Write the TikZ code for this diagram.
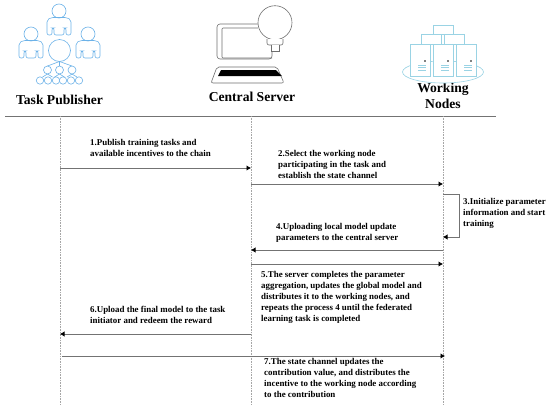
\documentclass[tikz,border=0pt]{standalone}
\usepackage{fontspec}
\setmainfont{Liberation Serif}
\usetikzlibrary{calc,arrows.meta}

\definecolor{pubblue}{HTML}{6CB2E8}
\definecolor{srvgray}{HTML}{6E6E6E}
\definecolor{nodeblue}{HTML}{9AD3E4}

\tikzset{
	head/.style={font=\bfseries\fontsize{13.6}{16}\selectfont, align=center, inner sep=0pt},
	step text/.style={font=\bfseries\fontsize{8.9}{11}\selectfont, align=left, anchor=north west, inner sep=0pt},
	life/.style={densely dotted, gray!70, line width=0.6pt},
	msg/.style={draw=black!55, line width=1pt, -{Latex[black,length=4.5pt,width=5.5pt]}},
	pub/.style={draw=pubblue, line width=0.6pt},
	srv/.style={draw=srvgray, line width=0.6pt},
	wrk/.style={draw=nodeblue, line width=0.6pt, fill=white},
}

\begin{document}
\begin{tikzpicture}[x=1pt, y=-1pt]

	\useasboundingbox (0,0) rectangle (550,405);

	% coordinates
	\coordinate (P) at (60,116);
	\coordinate (S) at (251,116);
	\coordinate (W) at (443,116);

	% header labels
	\node[head] (publisher) at (59.5,100) {Task Publisher};
	\node[head] (server) at (252,97) {Central Server};
	\node[head] (workers) at (443,96) {Working\\Nodes};

	% header rule and lifelines
	\coordinate (ruleL) at (5,116);
	\coordinate (ruleR) at (496,116);
	\draw[black!55, line width=0.9pt] (ruleL) -- (ruleR);
	\draw[life] (P) -- (60,405);
	\draw[life] (S) -- (251,405);
	\draw[life] (W) -- (443,405);

	% publisher icon: people
	\foreach \x/\y in {59/0, 31/23, 88/23} {
		\draw[pub] (\x,{\y+11}) circle[radius=7];
		\draw[pub, rounded corners=2pt] ({\x-12},{\y+35}) -- ({\x-12},{\y+20}) -- ({\x-8},{\y+17.5}) -- ({\x+8},{\y+17.5}) -- ({\x+12},{\y+20}) -- ({\x+12},{\y+35}) -- ({\x+7},{\y+35}) -- ({\x+7},{\y+28}) -- ({\x+5},{\y+28}) -- ({\x+5},{\y+35}) -- ({\x-5},{\y+35}) -- ({\x-5},{\y+28}) -- ({\x-7},{\y+28}) -- ({\x-7},{\y+35}) -- cycle;
	}
	% publisher icon: tree
	\draw[pub, fill=white] (59.5,50.5) circle[radius=11];
	\foreach \x in {47.5,59.5,72} {
		\draw[pub] (59.5,61.5) -- (\x,66);
		\draw[pub] (\x,74) -- ({\x-5},77);
		\draw[pub] (\x,74) -- ({\x+5},77);
		\draw[pub, fill=white] (\x,70) circle[radius=4];
	}
	\foreach \x in {40,48,56,63,71,79} {
		\draw[pub, fill=white] (\x,80.5) circle[radius=3.7];
	}

	% server icon: laptop
	\draw[srv, rounded corners=3pt] (258,24) -- (217,24) -- (217,59) -- (272,59) -- (272,50);
	\draw[srv, rounded corners=1pt] (258,28) -- (222,28) -- (222,58) -- (272,58);
	\draw[srv, rounded corners=2pt] (217,67) -- (277,67) -- (284,83) -- (211,83) -- cycle;
	\fill[black] (221,70) -- (276,70) -- (282,76) -- (218,76) -- cycle;
	% server icon: bulb
	\draw[srv, fill=white] (275,22.7) circle[radius=17];
	\draw[srv, fill=white, rounded corners=2pt] (267,39) -- (267,45) -- (283,45) -- (283,39);
	\draw[srv, fill=white] (271,45) -- (271,51) -- (279,51) -- (279,45);

	% worker icon
	\draw[wrk] (443,72) ellipse[x radius=40.5, y radius=11];
	\foreach \x/\y/\h in {433/25.5/9, 421/34/10, 444.5/34/10} {
		\draw[wrk] (\x,\y) rectangle ({\x+20},{\y+\h});
	}
	\foreach \x in {410,433,456} {
		\draw[wrk] (\x,44) rectangle ({\x+20.5},76);
		\fill[black] ({\x+15},61) circle[radius=0.9];
		\foreach \y in {65,67.5,70} {
			\draw[nodeblue, line width=0.7pt] ({\x+8},\y) -- ({\x+16},\y);
		}
	}

	% message ends
	\coordinate (p1) at (60,168);
	\coordinate (s1) at (251,168);
	\coordinate (s2) at (251,184);
	\coordinate (w2) at (443,184);
	\coordinate (w3a) at (443,194.5);
	\coordinate (w3b) at (443,237);
	\coordinate (w4) at (443,250);
	\coordinate (s4) at (251,250);
	\coordinate (s5) at (251,264);
	\coordinate (w5) at (443,264);
	\coordinate (s6) at (251,334);
	\coordinate (p6) at (60,334);
	\coordinate (p7) at (62,356);
	\coordinate (w7) at (445,356);

	% messages
	\draw[msg] (p1) -- (s1);
	\draw[msg] (s2) -- (w2);
	\draw[msg] (w3a) -- (459,194.5) -- (459,237) -- (w3b);
	\draw[msg] (w4) -- (s4);
	\draw[msg] (s5) -- (w5);
	\draw[msg] (s6) -- (p6);
	\draw[msg] (p7) -- (w7);

	% step labels
	\node[step text] (t1) at (90,139) {1.Publish training tasks and\\available incentives to the chain};
	\node[step text] (t2) at (278,150) {2.Select the working node\\participating in the task and\\establish the state channel};
	\node[step text] (t3) at (463,198) {3.Initialize parameter\\information and start\\training};
	\node[step text] (t4) at (276,223) {4.Uploading local model update\\parameters to the central server};
	\node[step text] (t5) at (261,271) {5.The server completes the parameter\\aggregation, updates the global model and\\distributes it to the working nodes, and\\repeats the process 4 until the federated\\learning task is completed};
	\node[step text] (t6) at (90,306) {6.Upload the final model to the task\\initiator and redeem the reward};
	\node[step text] (t7) at (264,358) {7.The state channel updates the\\contribution value, and distributes the\\incentive to the working node according\\to the contribution};

\end{tikzpicture}
\end{document}
